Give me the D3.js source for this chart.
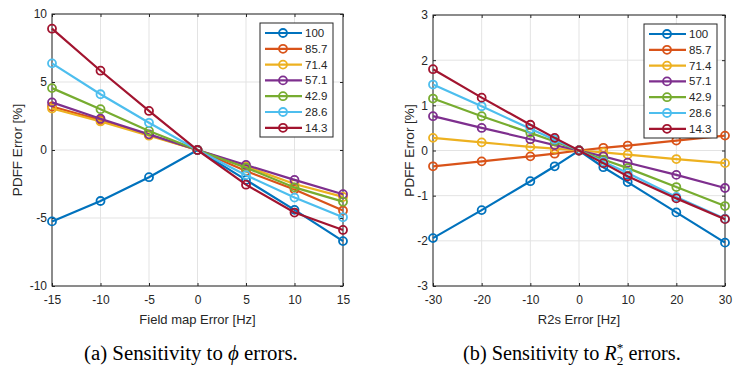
<!DOCTYPE html>
<meta charset="utf-8">
<html>
<head>
<style>
  body { margin: 0; background: #fff; }
  svg text { font-family: "Liberation Sans", Arial, sans-serif; }
  .caption { font-family: "Liberation Serif", "Times New Roman", serif; font-size: 20px; }
</style>
</head>
<body>
<div id="chart"></div>
<script src="https://d3js.org/d3.v7.min.js"></script>
<script>
// legend labels (fat fraction) and MATLAB colours
var series = ["100", "85.7", "71.4", "57.1", "42.9", "28.6", "14.3"];
var colors = ["#0072BD", "#D95319", "#EDB120", "#7E2F8E", "#77AC30", "#4DBEEE", "#A2142F"];

// (a) field map error
var xA = [-15, -10, -5, 0, 5, 10, 15];
var yA = [
  [-5.25, -3.75, -2.0, 0, -2.2, -4.4, -6.7],
  [3.2, 2.2, 1.1, 0, -1.55, -2.9, -4.45],
  [3.05, 2.1, 1.05, 0, -1.2, -2.5, -3.45],
  [3.5, 2.3, 1.15, 0, -1.1, -2.2, -3.25],
  [4.55, 3.0, 1.4, 0, -1.3, -2.75, -3.8],
  [6.37, 4.1, 2.0, 0, -1.85, -3.5, -4.95],
  [8.92, 5.83, 2.87, 0, -2.55, -4.6, -5.88]
];
var xTicksA = [-15, -10, -5, 0, 5, 10, 15];
var yTicksA = [-10, -5, 0, 5, 10];

// (b) R2* error
var xB = [-30, -20, -10, -5, 0, 5, 10, 20, 30];
var yB = [
  [-1.94, -1.32, -0.68, -0.35, 0, -0.37, -0.70, -1.37, -2.04],
  [-0.35, -0.24, -0.13, -0.07, 0, 0.06, 0.11, 0.22, 0.33],
  [0.28, 0.18, 0.08, 0.04, 0, -0.04, -0.09, -0.19, -0.28],
  [0.76, 0.50, 0.25, 0.12, 0, -0.13, -0.27, -0.54, -0.83],
  [1.15, 0.76, 0.39, 0.2, 0, -0.2, -0.39, -0.81, -1.23],
  [1.46, 0.98, 0.48, 0.24, 0, -0.25, -0.5, -1.03, -1.51],
  [1.8, 1.17, 0.57, 0.28, 0, -0.28, -0.57, -1.06, -1.52]
];
var xTicksB = [-30, -20, -10, 0, 10, 20, 30];
var yTicksB = [-3, -2, -1, 0, 1, 2, 3];

var svg = d3.select("#chart").append("svg")
  .attr("width", 742).attr("height", 376);

// plain hyphen minus, like MATLAB
var fmt = d => d < 0 ? "-" + Math.abs(d) : String(d);

function panel(opt) {
  var x = d3.scaleLinear().domain(opt.xDomain).range([opt.left, opt.right]);
  var y = d3.scaleLinear().domain(opt.yDomain).range([opt.bottom, opt.top]);
  var g = svg.append("g");

  // grid
  g.selectAll(".gx").data(opt.xTicks).enter().append("line")
    .attr("x1", d => x(d)).attr("x2", d => x(d))
    .attr("y1", opt.top).attr("y2", opt.bottom)
    .attr("stroke", "#e3e3e3").attr("stroke-width", 1);
  g.selectAll(".gy").data(opt.yTicks).enter().append("line")
    .attr("y1", d => y(d)).attr("y2", d => y(d))
    .attr("x1", opt.left).attr("x2", opt.right)
    .attr("stroke", "#e3e3e3").attr("stroke-width", 1);

  // axes (ticks inside, box on)
  var tl = 3;
  g.append("g").attr("transform", "translate(0," + opt.bottom + ")")
    .call(d3.axisBottom(x).tickValues(opt.xTicks).tickSize(-tl).tickPadding(9).tickFormat(fmt).tickSizeOuter(0))
    .call(a => a.select(".domain").remove());
  g.append("g").attr("transform", "translate(0," + opt.top + ")")
    .call(d3.axisTop(x).tickValues(opt.xTicks).tickSize(-tl).tickFormat("").tickSizeOuter(0))
    .call(a => a.select(".domain").remove());
  g.append("g").attr("transform", "translate(" + opt.left + ",0)")
    .call(d3.axisLeft(y).tickValues(opt.yTicks).tickSize(-tl).tickPadding(5).tickFormat(fmt).tickSizeOuter(0))
    .call(a => a.select(".domain").remove());
  g.append("g").attr("transform", "translate(" + opt.right + ",0)")
    .call(d3.axisRight(y).tickValues(opt.yTicks).tickSize(-tl).tickFormat("").tickSizeOuter(0))
    .call(a => a.select(".domain").remove());
  g.selectAll(".tick line").attr("stroke", "#262626");
  g.selectAll(".tick text").attr("font-size", 12).attr("fill", "#262626")
    .style("font-family", "'Liberation Sans', Arial, sans-serif");

  g.append("rect")
    .attr("x", opt.left).attr("y", opt.top)
    .attr("width", opt.right - opt.left).attr("height", opt.bottom - opt.top)
    .attr("fill", "none").attr("stroke", "#262626").attr("stroke-width", 1);

  // labels
  g.append("text").attr("x", (opt.left + opt.right) / 2).attr("y", opt.bottom + 38)
    .attr("text-anchor", "middle").attr("font-size", 13).attr("fill", "#262626")
    .text(opt.xLabel);
  g.append("text")
    .attr("transform", "translate(" + (opt.left - opt.yLabOff) + "," + ((opt.top + opt.bottom) / 2) + ") rotate(-90)")
    .attr("text-anchor", "middle").attr("font-size", 13.5).attr("fill", "#262626")
    .text("PDFF Error [%]");

  // series
  var line = d3.line().x((d, i) => x(opt.xs[i])).y(d => y(d));
  opt.ys.forEach(function(vals, k) {
    var s = g.append("g");
    s.append("path").datum(vals).attr("d", line)
      .attr("fill", "none").attr("stroke", colors[k]).attr("stroke-width", 2.2);
    s.selectAll("circle").data(vals).enter().append("circle")
      .attr("cx", (d, i) => x(opt.xs[i])).attr("cy", d => y(d)).attr("r", 4)
      .attr("fill", "none").attr("stroke", colors[k]).attr("stroke-width", 1.8);
  });

  // legend
  var lg = g.append("g").attr("transform", "translate(" + opt.legX + "," + opt.legY + ")");
  lg.append("rect").attr("width", 73).attr("height", 114)
    .attr("fill", "#fff").attr("stroke", "#262626").attr("stroke-width", 1);
  series.forEach(function(name, k) {
    var yy = 10 + k * 15.8;
    lg.append("line").attr("x1", 5).attr("x2", 42).attr("y1", yy).attr("y2", yy)
      .attr("stroke", colors[k]).attr("stroke-width", 2.2);
    lg.append("circle").attr("cx", 23).attr("cy", yy).attr("r", 4)
      .attr("fill", "none").attr("stroke", colors[k]).attr("stroke-width", 1.8);
    lg.append("text").attr("x", 45).attr("y", yy + 4).attr("font-size", 11.5)
      .attr("fill", "#262626").text(name);
  });

  // caption, stretched to the width it has in the scanned figure
  var cap = svg.append("text").attr("class", "caption")
    .attr("text-anchor", "start").attr("fill", "#000");
  opt.caption(cap);
  var w = cap.node().getBBox().width;
  cap.attr("transform", "translate(" + opt.capX + ",360) scale(" + (opt.capW / w) + ",1)");
}

panel({
  left: 52, right: 343, top: 14, bottom: 286, yLabOff: 30,
  xDomain: [-15, 15], yDomain: [-10, 10],
  xTicks: xTicksA, yTicks: yTicksA, xs: xA, ys: yA,
  xLabel: "Field map Error [Hz]", legX: 260, legY: 23, capX: 84, capW: 214,
  caption: function(t) {
    t.append("tspan").text("(a) Sensitivity to ");
    t.append("tspan").attr("font-style", "italic").text("ϕ");
    t.append("tspan").text(" errors.");
  }
});

panel({
  left: 433, right: 725, top: 15, bottom: 286, yLabOff: 19,
  xDomain: [-30, 30], yDomain: [-3, 3],
  xTicks: xTicksB, yTicks: yTicksB, xs: xB, ys: yB,
  xLabel: "R2s Error [Hz]", legX: 644, legY: 24, capX: 463, capW: 218,
  caption: function(t) {
    t.append("tspan").text("(b) Sensitivity to ");
    t.append("tspan").attr("font-style", "italic").text("R");
    t.append("tspan").attr("font-size", 13).attr("dy", 5).attr("dx", 0).text("2");
    t.append("tspan").attr("font-size", 13).attr("dy", -13).attr("dx", -6.5).text("*");
    t.append("tspan").attr("dy", 8).text(" errors.");
  }
});
</script>
</body>
</html>
